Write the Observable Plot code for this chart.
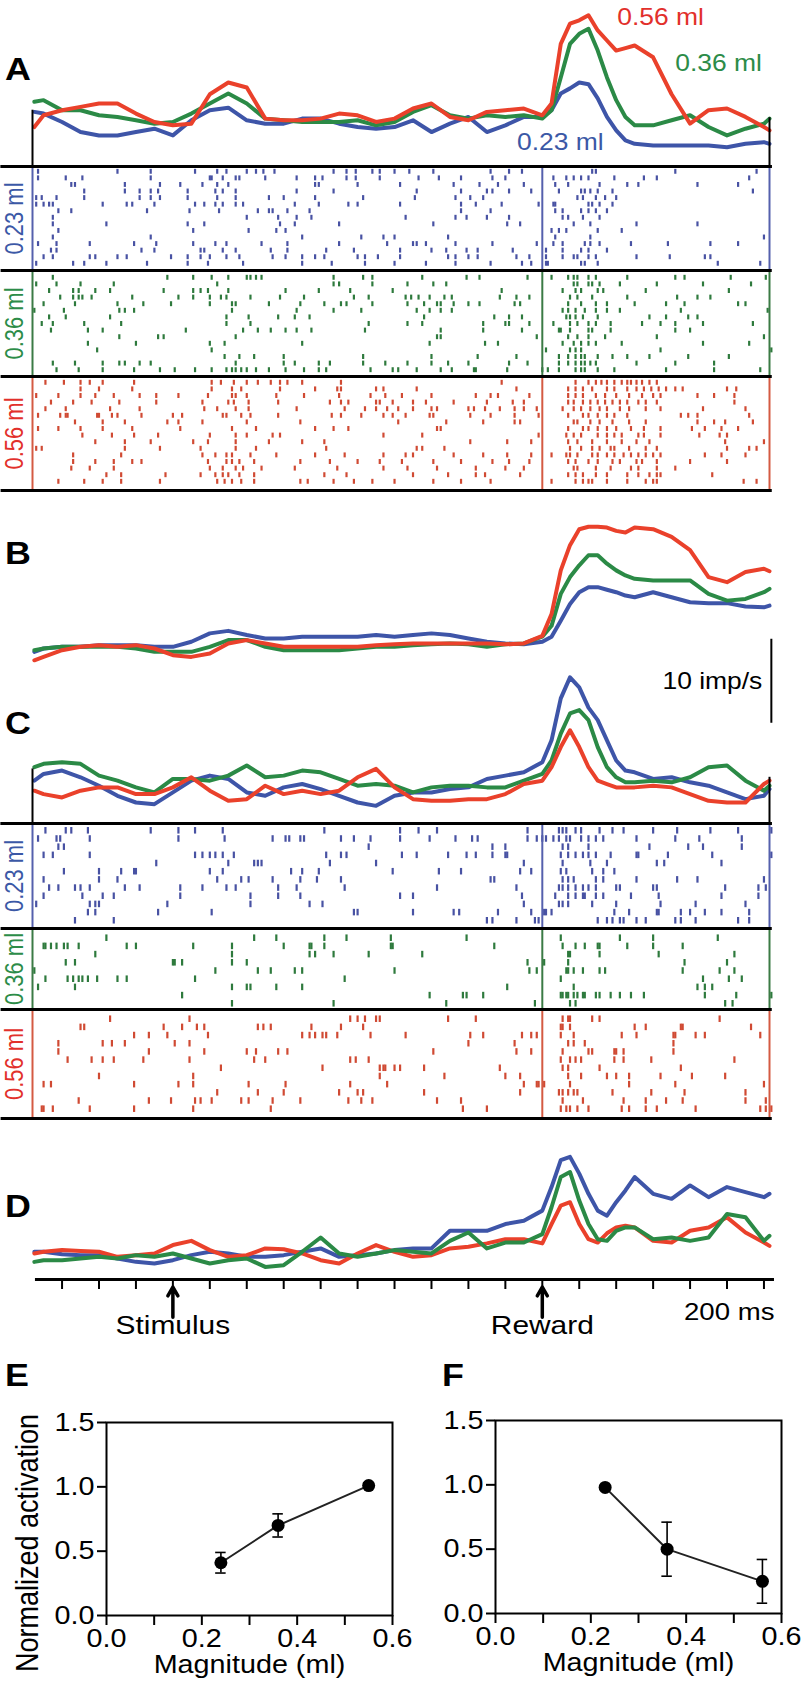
<!DOCTYPE html>
<html><head><meta charset="utf-8">
<script src="https://cdn.jsdelivr.net/npm/d3@7"></script>
<script src="https://cdn.jsdelivr.net/npm/@observablehq/plot@0.6"></script>
<style>
body{margin:0;background:#fff;}
#fig{position:relative;width:802px;height:1692px;overflow:hidden;background:#fff;font-family:"Liberation Sans",Arial,Helvetica,sans-serif;}
.pane{position:absolute;}
.letter{position:absolute;font-weight:bold;font-size:32px;line-height:1;transform:translateY(-50%) scaleX(1.12);transform-origin:0 50%;color:#000;}
</style></head><body><div id="fig"></div>
<script>
// ---------------- DATA ----------------
// PSTH sample times (ms, stimulus at 0, reward at 2000)
const psthT = [-750,-700,-600,-500,-400,-300,-200,-100,0,100,200,300,400,500,600,700,800,900,1000,1100,1200,1300,1400,1500,1600,1700,1800,1900,2000,2050,2100,2150,2200,2250,2300,2350,2400,2450,2500,2600,2700,2800,2900,3000,3100,3200,3230];
// Panel A firing rates (imp/s)
const psthA_023 = [6.5,6.3,5.3,4.1,3.7,3.7,4.1,4.5,3.7,5.5,6.7,7.0,5.5,5.1,5.1,5.7,5.7,5.1,4.7,4.5,4.7,5.5,4.1,5.1,5.9,4.1,4.9,5.9,5.9,6.7,8.7,9.3,10.0,9.8,8.1,5.9,4.3,3.1,2.7,2.5,2.5,2.5,2.5,2.3,2.7,2.9,2.7];
const psthA_036 = [7.7,7.9,6.7,6.7,6.1,5.9,5.5,5.1,5.3,6.3,7.5,8.7,7.5,5.7,5.5,5.3,5.3,5.3,5.5,4.9,5.3,6.5,7.3,6.1,5.7,6.1,5.9,6.1,5.7,6.7,10.6,14.6,15.8,16.4,13.8,10.6,7.9,5.9,4.9,4.9,5.5,6.1,4.7,3.7,4.5,5.1,5.7];
const psthA_056 = [4.7,6.1,6.7,7.1,7.5,7.5,6.3,5.3,4.9,5.1,8.6,10.0,9.4,5.7,5.5,5.5,5.7,6.3,6.1,5.3,5.7,6.9,7.5,5.9,5.5,6.5,6.7,6.9,6.1,7.5,14.6,17.0,17.4,18.0,16.2,15.0,13.8,14.1,14.4,13.0,8.6,5.1,6.7,6.9,5.9,4.7,4.3];
// Panel B
const psthB_023 = [4.6,5.0,5.2,5.2,5.4,5.4,5.4,5.2,5.2,5.8,6.8,7.1,6.6,6.2,6.2,6.4,6.4,6.4,6.4,6.6,6.4,6.6,6.8,6.6,6.2,5.8,5.6,5.5,5.8,6.4,8.3,10.3,11.7,12.3,12.3,12.0,11.7,11.3,11.1,11.7,11.1,10.5,10.4,10.4,10.0,9.9,10.1];
const psthB_036 = [4.8,5.0,5.2,5.2,5.2,5.2,5.0,4.6,4.6,4.6,5.2,6.0,6.0,5.2,4.8,4.8,4.8,4.8,5.0,5.2,5.2,5.4,5.5,5.6,5.5,5.2,5.5,5.6,6.4,7.7,11.5,13.5,14.9,16.1,16.1,15.1,14.3,13.7,13.3,13.1,13.1,13.1,11.5,10.7,10.9,11.7,12.1];
const psthB_056 = [3.6,4.0,4.8,5.2,5.4,5.2,5.4,5.0,4.2,4.0,4.4,5.6,6.0,5.6,5.2,5.2,5.2,5.2,5.2,5.4,5.5,5.6,5.6,5.6,5.6,5.6,5.5,5.6,6.5,9.1,14.3,17.3,19.2,19.5,19.5,19.4,19.0,18.8,19.4,19.2,18.3,16.7,13.5,12.9,14.1,14.5,14.2];
// Panel C
const psthC_023 = [5.1,5.9,6.3,5.5,4.5,3.3,2.5,2.3,3.7,5.1,5.7,5.3,3.7,3.3,4.3,4.7,4.1,3.3,2.5,2.1,3.3,3.7,3.7,4.1,4.3,5.3,5.7,6.1,7.3,9.9,14.9,17.4,16.2,13.8,12.3,9.9,7.5,6.3,6.1,5.3,5.5,4.9,4.5,3.7,2.9,3.3,4.1];
const psthC_036 = [6.7,7.1,7.3,7.1,5.7,5.1,4.3,3.7,5.3,5.3,5.1,5.7,6.9,5.5,5.7,6.3,6.1,5.3,4.5,4.7,4.5,3.7,4.3,4.5,4.5,4.3,4.3,5.1,5.9,7.5,10.7,13.1,13.5,12.3,9.1,6.7,5.5,4.9,4.9,5.1,4.9,5.5,6.7,6.9,5.1,3.9,4.5];
const psthC_056 = [3.9,3.5,3.1,3.9,4.3,4.3,3.5,3.5,4.3,5.5,3.9,2.7,2.9,4.5,3.5,3.9,3.5,3.9,5.5,6.5,4.3,2.9,2.7,2.7,2.9,2.9,3.5,4.7,5.1,6.7,9.1,11.1,9.1,6.7,5.1,4.7,4.3,4.3,4.3,4.5,4.3,3.5,2.7,2.5,2.5,4.7,5.1];
// Panel D
const psthD_023 = [3.3,3.3,3.0,2.9,2.9,2.5,2.1,1.9,2.3,2.9,3.3,3.1,2.7,2.7,2.9,3.3,3.7,2.7,2.9,3.1,3.5,3.7,3.7,5.8,5.8,5.8,6.6,7.0,8.2,11.0,14.2,14.6,12.6,10.2,8.2,7.6,9.2,10.6,12.2,10.2,9.6,11.2,9.8,11.0,10.4,9.8,10.2];
const psthD_036 = [2.1,2.3,2.3,2.5,2.7,2.5,2.9,2.7,3.1,2.5,1.9,2.3,2.5,1.5,1.7,3.3,5.0,3.1,2.7,3.1,3.5,3.3,3.1,4.6,5.6,3.7,4.4,4.4,5.4,8.6,12.2,12.8,9.4,6.6,4.8,4.6,5.8,6.2,6.2,4.8,5.0,4.6,5.0,7.8,7.4,4.6,5.2];
const psthD_056 = [3.1,3.3,3.5,3.4,3.3,2.7,2.9,3.1,4.1,4.6,3.5,2.7,2.9,3.7,3.6,3.1,2.3,1.9,3.1,4.1,3.3,2.7,2.9,3.7,3.9,4.3,4.8,4.8,4.3,6.6,8.8,9.2,6.6,4.8,4.4,5.5,6.2,6.4,6.2,4.6,4.4,5.8,6.2,7.4,5.6,4.4,4.0];

// Rasters: spike times (ms) per trial
const rasterA_023 = [
[-730,-300,-120,120,240,290,400,450,490,550,870,940,990,1080,1120,1200,1280,1410,1720,1820,1890,2270,2290,2720,3160],
[-730,-580,-490,-120,200,210,270,340,360,500,670,770,810,940,990,1120,1330,1440,1560,1730,1800,2060,2130,2170,2210,2250,2390,2550,2620,3120],
[-550,-530,-260,-70,40,160,240,300,770,790,1000,1230,1520,1660,1760,1900,2070,2140,2310,2460,2520,2840,3060],
[-480,-260,-180,-120,-80,80,230,270,340,670,870,1320,1560,1700,1730,1820,1940,2090,2210,2230,2260,2300,2380,3140],
[-740,-710,-630,-480,-180,-120,-70,80,240,340,520,600,770,1030,1310,1530,1610,1680,2190,2220,2290,2340,2400],
[-740,-700,-670,-650,-380,-250,-220,-100,120,170,230,270,340,380,660,790,950,1000,1230,1560,1640,1780,1980,2060,2070,2250,2270,2310,2380],
[-620,-550,-140,90,250,460,520,540,620,740,1560,1720,2070,2110,2210,2250,2290,2350],
[-650,400,570,670,750,1260,1530,1590,1700,1820,2110,2140,2220,2310],
[-650,-360,80,170,580,660,900,1410,1810,1880,2170,2260,2510,2840],
[-620,110,410,560,610,2050,2090,2130,2300,2430],
[-650,-120,700,1020,1140,1200,1490,2070,2260,3200],
[-730,-630,-450,-210,-90,110,230,290,480,620,900,1160,1300,1320,1370,1530,1730,1970,2060,2110,2230,2260,2310,2480,2680,2910,3060],
[-660,-630,-170,-100,150,170,270,340,530,620,830,980,1230,1400,1480,1590,1650,1840,2020,2110,2210,2250,2350],
[-700,-650,-450,-420,-300,-250,-10,80,150,200,290,360,540,610,700,770,820,1000,1040,1110,1230,1490,1530,1600,1650,1860,1930,2020,2110,2170,2190,2250,2290,2510,2690,2880,2910],
[-740,-540,-480,-360,-140,80,190,380,700,860,1040,1200,1370,1530,1720,1890,1940,2020,2030,2210,2230,2300,2950,3180]
];
const rasterA_036 = [
[-650,-30,110,210,300,400,420,450,480,870,1030,1080,1350,1590,1660,1920,2050,2140,2170,2190,2250,2290,2460,2720,2770,3020,3210],
[-740,-630,-500,-320,240,870,900,1080,1270,1410,1480,2170,2190,2250,2270,2310,2420,2620,2870,3130],
[-670,-540,-510,-420,-340,-50,110,150,190,300,610,790,960,1190,1780,2110,2180,2210,2300,2330,2560,3010],
[-610,-540,-510,-490,-440,-220,30,110,200,260,290,420,580,710,980,1060,1260,1290,1330,1390,1470,1510,1770,1860,1930,2150,2190,2270,2460,2730,2840,2910],
[-700,-530,-300,-160,-10,200,320,340,520,690,820,910,940,1080,1270,1360,1430,1450,1520,1600,1660,1850,1880,2140,2210,2290,2350,2500,2670,2770,3060,3100],
[-750,-590,-290,-260,-210,320,670,870,1020,1320,1390,1450,1510,2110,2140,2180,2230,2290,2350,2420,2750,3220],
[-670,-580,-340,290,410,570,660,740,1360,1740,1820,1890,2130,2150,2180,2220,2300,2580,2670,2790,2840],
[-710,-650,-480,-280,290,420,1060,1270,1350,1680,1800,1820,1930,2060,2150,2190,2250,2290,2370,2540,2640,2720,2870,3140],
[-660,-460,-380,70,380,460,530,610,670,750,1040,1450,1680,1890,2090,2100,2150,2250,2270,2370,2720,2800],
[-290,-80,-50,340,1430,1450,1970,2140,2190,2250,2340,2620,3200],
[-460,-200,200,280,700,1390,1690,1760,2110,2170,2210,2250,2290,2430,2870,3120],
[-410,210,2020,2150,2180,2210,2640,3240],
[280,360,440,600,1030,1400,1650,1860,2090,2140,2180,2210,2230,2300,2380,2460,2580,2790,3010],
[-650,-530,-380,-290,-260,-180,-120,340,600,660,790,850,1030,1150,1270,1400,1490,1600,1820,1920,2090,2140,2180,2210,2230,2260,2290,2510,2720,2930],
[-630,-510,-380,-210,-70,10,120,210,290,320,340,370,400,450,520,610,710,790,830,1070,1190,1220,1320,1450,1510,1630,1640,1810,2000,2030,2090,2180,2210,2230,2300,2390,2670,2930,3180]
];
const rasterA_056 = [
[-690,-590,-500,-450,-380,-210,210,260,330,400,460,530,580,620,700,910,1780,2180,2250,2290,2320,2350,2390,2430,2460,2480,2510,2540,2580,2620],
[-500,-400,-220,210,320,370,580,770,890,910,1100,1140,1320,1860,2140,2180,2220,2270,2350,2390,2460,2510,2550,2590,2630,2670,2720,2760,3000,3050],
[-740,-620,-500,-420,-320,-180,-90,30,190,320,340,400,560,710,900,1070,1150,1240,1400,1640,1720,1760,1930,2140,2180,2220,2290,2340,2400,2470,2540,2600,2640,2840,2930,3040],
[-660,-540,-440,-290,-90,160,300,330,410,570,850,910,950,1100,1120,1190,1300,1370,1520,1700,1840,1900,2140,2170,2220,2260,2300,2340,2380,2420,2460,2520,2560,2620,3040],
[-690,-580,-340,-180,170,240,340,410,670,930,1040,1100,1160,1220,1300,1400,1430,1600,1630,1690,1770,1850,1900,1970,2110,2170,2210,2260,2310,2350,2420,2470,2560,2640,2870,3100],
[-730,-610,-580,-570,-410,-400,-330,-300,-170,0,50,270,290,370,420,570,860,910,1020,1140,1190,1260,1390,1410,1610,1720,1850,1980,2140,2220,2250,2300,2350,2390,2460,2750,2790,2840,3120],
[-530,-380,-260,-30,30,160,400,690,1220,1480,1680,1850,1880,2170,2190,2260,2310,2380,2470,2560,2840,2930,2990,3140],
[-730,-620,-500,-380,-220,40,320,450,770,870,950,1430,1450,2140,2220,2250,2300,2350,2400,2480,2550,2640,2810,2880,2970,3060],
[-490,-330,-210,-80,200,340,400,540,580,1140,1350,1980,2130,2170,2210,2300,2350,2390,2430,2520,2550,2640,2850,2960,3000],
[-420,-260,-120,110,190,340,520,700,820,1610,1810,1940,2140,2190,2270,2350,2430,2510,2580,2990,3200],
[-740,-710,-260,-70,150,340,450,830,1320,1350,1470,2150,2210,2270,2310,2370,2390,2470,2560,2620,3000,3120,3160],
[-540,-280,160,230,290,320,420,560,770,930,1140,1260,1300,1520,1680,1810,1940,2050,2130,2150,2190,2270,2300,2350,2390,2440,2480,2520,2560,2600,2640,2880,2970,3100],
[-540,-420,-320,-220,-170,190,290,320,360,440,690,850,1000,1120,1240,1410,1560,1730,1820,1930,2140,2180,2250,2300,2380,2420,2510,2540,2620,2800,3000],
[-550,-450,-320,200,270,340,380,480,660,890,1140,1270,1430,1640,1800,1900,2170,2190,2290,2370,2480,2520,2620,2720],
[-360,-280,-40,150,230,270,300,360,440,820,940,1300,1490,1640,1690,1880,2140,2180,2220,2290,2350,2460,2520,2580,2620,2640,2920],
[-620,-480,-380,-280,-70,240,280,320,370,440,690,730,870,980,1080,1200,1410,1560,1720,2050,2180,2220,2250,2270,2350,2460,2560,2600,2620,3090,3160]
];
const rasterC_023 = [
[-690,-580,-550,-460,-120,30,120,270,820,1230,1330,1430,1920,2090,2110,2130,2180,2210,2310,2380,2440,2600,2730,2910,3060,3240],
[-730,-630,-610,-450,30,280,540,610,630,690,710,910,980,1070,1230,1390,1530,1620,1650,1920,1970,2000,2020,2060,2090,2130,2150,2210,2250,2290,2330,2510,2720,2850,3080],
[-620,-590,1060,1730,1800,2110,2140,2250,2580,2790,2870,3080],
[-700,-650,-450,120,160,200,230,270,330,830,910,940,1240,1320,1490,1590,1640,1730,1800,1810,2100,2140,2180,2220,2250,2290,2370,2510,2520,2680,2920,3240],
[-90,300,440,460,480,850,1100,1900,2110,2260,2350,2620,2660,2970],
[-590,-400,-280,-210,-200,200,270,640,700,790,1190,1440,1560,1880,1940,2100,2130,2270,2330,2390],
[-700,-400,-300,240,370,410,540,690,780,910,1720,1740,2110,2140,2170,2290,2330,2510,2730,2840,3200],
[-670,-620,-530,-500,-450,-260,-180,40,160,290,340,570,670,930,1430,1860,2090,2110,2140,2180,2220,2250,2290,2400,2420,2600,2620,2990,3170,3210],
[-700,-490,-380,-320,40,420,570,690,1230,1300,1890,2070,2140,2180,2220,2230,2290,2330,2480,2630,2970,3170],
[-740,-450,-420,-400,-30,420,740,810,1900,2090,2110,2140,2270,2400,2640,2830,3100],
[-460,-420,-80,210,980,1000,1300,1520,1550,1760,1940,2010,2020,2050,2390,2470,2620,2630,2750,2800,2880,2970,3120],
[-530,-320,1700,1730,1860,1960,1980,2300,2350,2380,2420,2440,2510,2560,2720,2750,2830,3060,3120]
];
const rasterC_036 = [
[-360,440,560,820,940,1180,1590,2100,2420,2600,2950],
[-700,-690,-660,-630,-590,-570,-510,-250,-200,110,320,600,740,750,820,1180,1190,1740,2110,2180,2230,2300,2310,2460,2600,2760],
[-420,320,740,770,870,1060,1350,2140,2150,2310,2630,3040],
[-580,-530,0,10,50,320,400,1920,2010,2140,2770,3000],
[-750,230,460,530,660,700,1200,1930,1970,2130,2140,2170,2220,2310,2340,2760,2960,3040],
[-690,-570,-540,-510,-490,-460,-410,-300,-250,120,930,2100,2870,3010,3080],
[-730,-530,320,400,420,560,700,1810,2170,2840,2880,2920],
[50,1390,1570,1590,1680,2100,2110,2130,2140,2170,2190,2220,2230,2290,2310,2370,2420,2480,2550,2880,3050,3240],
[320,870,1480,1960,2150,2180,2990,3030]
];
const rasterC_056 = [
[-340,90,960,1000,1040,1100,1120,1490,1640,2110,2140,2150,2270,2310,2960],
[-500,-480,-50,50,130,170,460,490,530,750,910,1030,2100,2110,2150,2500,2560,2750,2760,3130],
[-210,-130,-30,190,700,740,770,810,830,890,1070,1260,1610,1680,1890,1940,1970,2100,2170,2430,2510,2710,2720,2830,2880,3180],
[-620,-380,-330,-260,10,90,1600,1850,2140,2170,2230,2710],
[-620,-130,170,400,450,570,620,1410,1860,1940,2110,2250,2270,2390,2400,2440,2710],
[-570,-440,-380,-320,-160,90,440,500,960,990,1060,2100,2150,2180,2210,2390,2440,2590,3040],
[260,810,1120,1140,1150,1200,1230,1360,1770,2110,2140,2310,2750],
[-400,110,1120,1470,1800,1880,2140,2210,2350,2400,2470,2640,2810,2990],
[-700,-660,-210,30,110,410,610,960,1160,1900,1970,1980,2010,2150,2470,2720,3200],
[240,460,600,900,1000,1030,1360,1880,2090,2110,2140,2170,2190,2380,2590,2770,3100],
[-510,-130,-10,120,150,210,370,410,540,690,950,1020,1080,1430,1560,2110,2220,2440,2560,2670,2760,3100,3210],
[-710,-700,-650,-450,-210,110,530,1570,1700,2100,2130,2150,2190,2250,2430,2470,2560,2620,2830,3180,3210,3240]
];

// Time axis (panel D)
const axisTicks = [-600,-400,-200,0,200,400,600,800,1000,1200,1400,1600,1800,2000,2200,2400,2600,2800,3000,3200];
const eventTimes = [0, 2000];
const eventLabels = ["Stimulus", "Reward"];
const magnitudeLabels = ["0.23 ml", "0.36 ml", "0.56 ml"];
const scaleBarValue = 10; // imp/s

// Panels E and F
const magE = [0.24, 0.36, 0.55];
const actE = [0.41, 0.70, 1.01];
const semE = [0.08, 0.09, 0.02];
const magF = [0.23, 0.36, 0.56];
const actF = [0.98, 0.50, 0.25];
const semF = [0.01, 0.21, 0.17];
const xTicksEF = [0, 0.1, 0.2, 0.3, 0.4, 0.5, 0.6];
const yTicksEF = [0, 0.5, 1.0, 1.5];

// ---------------- STYLE ----------------
const lineCol = {b: "#3e55a8", g: "#2b8a46", r: "#ea412b"};
const tickCol = {b: "#4852a3", g: "#2e7a3d", r: "#d04a33"};
const vertCol = {b: "#5560ad", g: "#3b7b45", r: "#d45a42"};
const labCol = {b: "#3b58a6", g: "#2c8c48", r: "#e2302b"};
const FONT = "'Liberation Sans', Arial, Helvetica, sans-serif";
const STRETCH = 1.15;
const PX_PER_IMP = 8.4;
const XDOM = [-760, 3230];
const W = 802, ML = 32, MR = 33;

const fig = document.getElementById("fig");
function place(svg, left, top) {
  const d = document.createElement("div");
  d.className = "pane"; d.style.left = left + "px"; d.style.top = top + "px";
  svg.querySelectorAll("text").forEach(t => {
    const tr = t.getAttribute("transform");
    if (tr && /^translate\(/.test(tr)) t.setAttribute("transform", tr.replace(/^(translate\([^)]*\))/, `$1 scale(${STRETCH},1)`));
  });
  d.appendChild(svg); fig.appendChild(d);
}
function letter(ch, x, yc) {
  const d = document.createElement("div");
  d.className = "letter"; d.textContent = ch; d.style.left = x + "px"; d.style.top = yc + "px";
  fig.appendChild(d);
}
const svgStyle = {fontFamily: FONT, overflow: "visible", background: "transparent"};
const series = (arr) => psthT.map((t, i) => ({t, v: arr[i]}));

function psthPlot({top, height, marginBottom, curves, extra = []}) {
  const yMax = (height - marginBottom) / PX_PER_IMP;
  const svg = Plot.plot({
    width: W, height, marginLeft: ML, marginRight: MR, marginTop: 0, marginBottom,
    x: {domain: XDOM, axis: null}, y: {domain: [0, yMax], axis: null},
    style: svgStyle,
    marks: [
      ...curves.map(([arr, col]) => Plot.line(series(arr), {x: "t", y: "v", stroke: col, strokeWidth: 4, curve: "linear"})),
      ...extra
    ]
  });
  place(svg, 0, top);
}

function rasterPlot({trials, key, label, top, height, pad, step, frac, last}) {
  const d0 = -pad / step, d1 = (height - pad) / step;
  const spikes = trials.flatMap((row, i) => row.map(t => ({t, y1: i - frac / 2, y2: i + frac / 2})));
  const marks = [
    Plot.ruleX(spikes, {x: "t", y1: "y1", y2: "y2", stroke: tickCol[key], strokeWidth: 2.2}),
    Plot.ruleX([XDOM[0], eventTimes[1], XDOM[1]], {y1: d0, y2: d1, stroke: vertCol[key], strokeWidth: 2}),
    Plot.ruleY([{y: d0}], {y: "y", x1: -930, x2: 3245, stroke: "#000", strokeWidth: 3}),
    Plot.text([label], {frameAnchor: "left", textAnchor: "middle", dx: -18, rotate: -90, fill: labCol[key], fontSize: 22})
  ];
  if (last) marks.push(Plot.ruleY([{y: d1}], {y: "y", x1: -930, x2: 3245, stroke: "#000", strokeWidth: 3}));
  const svg = Plot.plot({
    width: W, height, marginLeft: ML, marginRight: MR, marginTop: 0, marginBottom: 0,
    x: {domain: XDOM, axis: null}, y: {domain: [d0, d1], range: [0, height], axis: null},
    style: svgStyle, marks
  });
  place(svg, 0, top);
}

// ---------------- PANEL A ----------------
psthPlot({
  top: 0, height: 170, marginBottom: 4,
  curves: [[psthA_023, lineCol.b], [psthA_036, lineCol.g], [psthA_056, lineCol.r]],
  extra: [
    Plot.ruleY([{y: 0}], {y: "y", x1: -930, x2: 3245, stroke: "#000", strokeWidth: 3}),
    Plot.ruleX([{t: XDOM[0], top: 6.7}, {t: XDOM[1], top: 5.8}], {x: "t", y1: 0, y2: "top", stroke: "#000", strokeWidth: 2}),
    Plot.text([{t: 2640, v: 17.7, s: magnitudeLabels[2], c: labCol.r}, {t: 2954, v: 12.3, s: magnitudeLabels[1], c: labCol.g}, {t: 2098, v: 2.9, s: magnitudeLabels[0], c: labCol.b}],
      {x: "t", y: "v", text: "s", fill: "c", fontSize: 23})
  ]
});
rasterPlot({trials: rasterA_023, key: "b", label: magnitudeLabels[0], top: 166, height: 104, pad: 5.3, step: 6.57, frac: 0.75});
rasterPlot({trials: rasterA_036, key: "g", label: magnitudeLabels[1], top: 270, height: 106, pad: 7.3, step: 6.6, frac: 0.75});
rasterPlot({trials: rasterA_056, key: "r", label: magnitudeLabels[2], top: 376, height: 114, pad: 6.3, step: 6.6, frac: 0.75, last: true});

// ---------------- PANEL B ----------------
const barBottom = -3.9;
psthPlot({
  top: 500, height: 200, marginBottom: 10,
  curves: [[psthB_023, lineCol.b], [psthB_036, lineCol.g], [psthB_056, lineCol.r]],
  extra: [
    Plot.ruleX([{t: 3240, y1: barBottom, y2: barBottom + scaleBarValue}], {x: "t", y1: "y1", y2: "y2", stroke: "#000", strokeWidth: 2}),
    Plot.text([{t: 3240, v: barBottom + scaleBarValue / 2}], {x: "t", y: "v", text: () => `${scaleBarValue} imp/s`, textAnchor: "end", dx: -9, fontSize: 23, fill: "#000"})
  ]
});

// ---------------- PANEL C ----------------
psthPlot({
  top: 660, height: 163, marginBottom: 0,
  curves: [[psthC_023, lineCol.b], [psthC_036, lineCol.g], [psthC_056, lineCol.r]],
  extra: [
    Plot.ruleY([{y: 0}], {y: "y", x1: -930, x2: 3245, stroke: "#000", strokeWidth: 3}),
    Plot.ruleX([{t: XDOM[0], top: 6.5}, {t: XDOM[1], top: 5.5}], {x: "t", y1: 0, y2: "top", stroke: "#000", strokeWidth: 2})
  ]
});
rasterPlot({trials: rasterC_023, key: "b", label: magnitudeLabels[0], top: 823, height: 105, pad: 7.3, step: 8.18, frac: 0.8});
rasterPlot({trials: rasterC_036, key: "g", label: magnitudeLabels[1], top: 928, height: 81, pad: 9.7, step: 8.2, frac: 0.8});
rasterPlot({trials: rasterC_056, key: "r", label: magnitudeLabels[2], top: 1009, height: 109, pad: 9.7, step: 8.18, frac: 0.8, last: true});

// ---------------- PANEL D ----------------
const tickLen = 10 / PX_PER_IMP;
psthPlot({
  top: 1130, height: 215, marginBottom: 66,
  curves: [[psthD_023, lineCol.b], [psthD_056, lineCol.r], [psthD_036, lineCol.g]],
  extra: [
    Plot.ruleY([{y: 0}], {y: "y", x1: -744, x2: 3257, stroke: "#000", strokeWidth: 3}),
    Plot.ruleX(axisTicks, {x: d => d, y1: 0, y2: -tickLen, stroke: "#000", strokeWidth: 2}),
    Plot.arrow(eventTimes, {x1: d => d, x2: d => d, y1: -4.5, y2: -0.9, stroke: "#000", strokeWidth: 3.5, headLength: 13}),
    Plot.text(eventTimes.map((t, i) => ({t, s: eventLabels[i]})), {x: "t", y: -5.5, text: "s", fontSize: 26, fill: "#000"}),
    Plot.text(["200 ms"], {x: 3257, y: -3.9, textAnchor: "end", fontSize: 24, fill: "#000"})
  ]
});

// ---------------- PANELS E & F ----------------
function magPlot({mag, act, sem, left, width, ml, mr, mt, mb, ylabel}) {
  const pts = mag.map((m, i) => ({m, a: act[i], lo: act[i] - sem[i], hi: act[i] + sem[i]}));
  const caps = pts.flatMap(p => [p.lo, p.hi].map(y => ({y, x1: p.m - 0.011, x2: p.m + 0.011})));
  const marks = [
    Plot.frame({stroke: "#000", strokeWidth: 2}),
    Plot.axisY({ticks: yTicksEF, tickSize: 9, tickPadding: 3, tickFormat: d => d.toFixed(1), fontSize: 25, strokeWidth: 2, label: null}),
    Plot.axisX({ticks: xTicksEF, tickSize: 10, tickPadding: 4, tickFormat: d => (Math.round(d * 10) % 2 === 0 ? d.toFixed(1) : ""), fontSize: 25, strokeWidth: 2, label: null}),
    Plot.ruleX(pts, {x: "m", y1: "lo", y2: "hi", stroke: "#000", strokeWidth: 1.6}),
    Plot.ruleY(caps, {y: "y", x1: "x1", x2: "x2", stroke: "#000", strokeWidth: 1.6}),
    Plot.line(pts, {x: "m", y: "a", stroke: "#222", strokeWidth: 2}),
    Plot.dot(pts, {x: "m", y: "a", r: 6.5, fill: "#000", stroke: "none"}),
    Plot.text(["Magnitude (ml)"], {frameAnchor: "bottom", dy: 40, lineAnchor: "top", fontSize: 25, fill: "#000"})
  ];
  if (ylabel) marks.push(Plot.text([ylabel], {frameAnchor: "left", textAnchor: "middle", dx: -78, dy: 24, rotate: -90, fontSize: 27, fill: "#000"}));
  const svg = Plot.plot({
    width, height: 352, marginLeft: ml, marginRight: mr, marginTop: mt, marginBottom: mb,
    x: {domain: [0, 0.6]}, y: {domain: [0, 1.5]}, style: svgStyle, marks
  });
  place(svg, left, 1340);
}
magPlot({mag: magE, act: actE, sem: semE, left: 0, width: 400, ml: 106, mr: 8, mt: 82, mb: 77, ylabel: "Normalized activation"});
magPlot({mag: magF, act: actF, sem: semF, left: 400, width: 402, ml: 95, mr: 21, mt: 80, mb: 79});

// ---------------- PANEL LETTERS ----------------
letter("A", 5, 69); letter("B", 5, 553); letter("C", 5, 723);
letter("D", 5, 1206); letter("E", 5, 1375); letter("F", 442, 1375);
</script>
</body></html>
